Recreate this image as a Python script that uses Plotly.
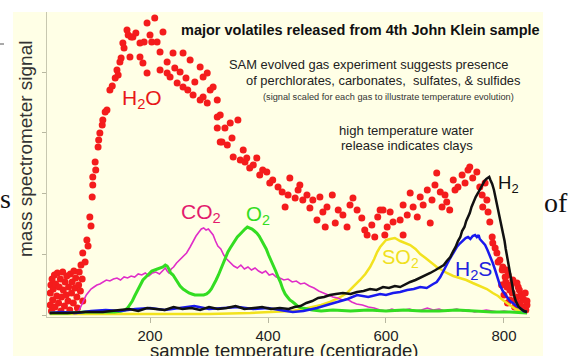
import plotly.graph_objects as go

# ---------------- data (temperature in °C, signal in arbitrary units) ----------------
h2o_temp = [31, 31, 32, 33, 34, 35, 36, 38, 39, 40, 42, 43, 45, 46, 48, 49, 50, 52, 53, 55,
            56, 58, 59, 61, 62, 64, 65, 67, 68, 70, 71, 73, 74, 76, 77, 79, 80, 82, 83, 85, 86,
            86, 90, 93, 95, 98, 100, 102, 103, 103, 107, 108, 112, 113, 115, 119, 120, 124, 127,
            132, 136, 141, 144, 146, 149, 151, 154, 156, 161, 163, 166, 168, 171, 176, 183, 183,
            188, 190, 195, 195, 200, 203, 208, 212, 217, 217, 222, 229, 229, 234, 239, 242, 246,
            251, 256, 256, 261, 264, 268, 273, 276, 285, 285, 290, 290, 297, 297, 302, 307, 314,
            314, 314, 319, 319, 322, 327, 331, 336, 339, 341, 349, 353, 358, 361, 364, 369, 375,
            381, 386, 391, 398, 403, 408, 417, 424, 429, 434, 437, 446, 451, 454, 459, 466, 471,
            476, 483, 488, 493, 497, 500, 509, 514, 519, 527, 534, 539, 544, 551, 559, 564, 568,
            576, 581, 586, 590, 595, 598, 602, 607, 612, 624, 629, 629, 636, 641, 646, 653, 658,
            663, 670, 675, 678, 683, 686, 692, 695, 700, 703, 708, 714, 717, 722, 729, 734, 739,
            742, 747, 754, 759, 763, 764, 768, 771, 773, 776, 780, 781, 785, 788, 790, 793, 797,
            798, 802, 803, 805, 807, 810, 814, 815, 819, 822, 824, 827, 829, 832, 834, 837, 839,
            800, 806, 812, 818, 826, 831, 836, 839, 810, 822, 796, 804]
h2o_signal = [10, 22, 30, 4, 36, 15, 26, 40, 8, 31, 19, 42, 12, 28, 36, 4, 18, 43, 25, 9,
              33, 20, 39, 14, 28, 5, 41, 22, 33, 12, 44, 27, 37, 18, 7, 30, 43, 24, 50, 36, 14,
              62, 53, 75, 69, 98, 89, 118, 130, 138, 153, 145, 168, 175, 182, 190, 195, 203, 205,
              225, 229, 237, 245, 240, 253, 257, 272, 267, 285, 280, 258, 278, 278, 282, 272, 258,
              252, 273, 292, 242, 280, 273, 297, 273, 263, 245, 283, 253, 242, 238, 262, 247, 232,
              243, 262, 228, 237, 225, 255, 220, 233, 248, 215, 238, 218, 242, 212, 225, 228, 215,
              198, 187, 200, 173, 173, 187, 170, 192, 177, 158, 195, 155, 165, 153, 157, 147, 150,
              157, 140, 145, 143, 132, 135, 128, 123, 108, 120, 137, 117, 125, 130, 115, 120, 107,
              115, 95, 118, 103, 88, 108, 120, 92, 105, 100, 88, 110, 117, 105, 97, 85, 80,
              90, 78, 98, 105, 105, 80, 88, 103, 93, 95, 80, 110, 100, 122, 108, 98, 118,
              110, 125, 92, 115, 130, 142, 123, 108, 120, 113, 105, 135, 125, 128, 140, 132, 145,
              148, 137, 143, 128, 120, 108, 132, 115, 103, 93, 78, 72, 67, 62, 53, 55, 45,
              48, 38, 33, 28, 40, 25, 22, 35, 15, 18, 28, 12, 20, 8, 15, 5, 10,
              20, 12, 30, 8, 25, 18, 22, 14, 15, 32, 30, 45]

co2_temp = [70, 75, 80, 84, 88, 92, 96, 100, 105, 110, 115, 120, 126, 132, 138, 144, 150, 156,
            162, 168, 174, 180, 186, 192, 198, 204, 210, 216, 222, 226, 229, 232, 236, 240, 245,
            250, 256, 262, 268, 273, 278, 283, 287, 291, 295, 299, 303, 307, 311, 315, 320, 325,
            330, 336, 342, 348, 354, 360, 366, 372, 378, 384, 390, 396, 402, 408, 414, 420, 427,
            434, 441, 448, 455, 462, 470, 478, 486, 494, 502, 510, 518, 526, 534, 542, 550, 560,
            570, 580, 590, 600, 610, 620, 630, 640, 650, 660, 670, 680, 690, 700, 710, 720, 730,
            740, 750, 760, 770, 780, 790, 800, 810, 820, 830, 836]
co2_signal = [1, 2, 5, 10, 16, 20, 23, 26, 28, 30, 31, 33, 35, 34, 36, 37, 35, 38, 37, 39, 38,
              41, 40, 42, 39, 42, 43, 41, 45, 47, 44, 42, 46, 48, 52, 55, 58, 62, 68, 74, 79, 83,
              86, 87, 85, 86, 83, 80, 74, 69, 66, 60, 56, 52, 49, 47, 50, 46, 48, 45, 47, 44, 42,
              44, 40, 41, 38, 37, 35, 36, 33, 34, 31, 32, 29, 27, 24, 22, 20, 18, 17, 15, 16, 13,
              11, 10, 8, 7, 5, 4, 6, 4, 5, 6, 4, 5, 7, 5, 6, 4, 5, 6, 4, 5, 3, 4, 5, 4, 3, 4, 3,
              3, 2, 2]

o2_temp = [30, 60, 90, 120, 140, 152, 158, 162, 166, 170, 174, 178, 183, 188, 193, 198, 203,
           208, 213, 218, 222, 226, 229, 232, 235, 239, 243, 247, 251, 256, 261, 266, 271, 276,
           281, 286, 291, 296, 300, 304, 308, 312, 316, 320, 324, 328, 332, 336, 340, 344, 348,
           353, 357, 361, 365, 369, 373, 377, 381, 385, 389, 393, 397, 401, 405, 409, 413, 417,
           421, 425, 429, 433, 437, 442, 447, 452, 458, 465, 475, 490, 510, 540, 570, 600, 630,
           660, 690, 720, 750, 780, 810, 839]
o2_signal = [2, 2, 3, 3, 3, 4, 5, 7, 10, 14, 19, 24, 30, 35, 38, 41, 44, 45, 46, 47, 48, 50,
             49, 46, 42, 40, 36, 32, 29, 26, 24, 22, 21, 20, 20, 20, 20, 21, 23, 26, 30, 35, 40,
             46, 53, 58, 63, 67, 71, 75, 78, 81, 84, 86, 88, 87, 86, 84, 82, 79, 75, 70, 66, 60,
             55, 50, 44, 38, 33, 26, 21, 18, 15, 13, 10, 8, 7, 6, 5, 4, 5, 4, 5, 4, 5, 4, 4, 5,
             4, 3, 3, 2]

so2_temp = [30, 100, 200, 300, 370, 420, 440, 460, 476, 490, 505, 520, 534, 545, 556, 565, 573,
            580, 585, 590, 595, 600, 607, 615, 624, 632, 641, 650, 658, 667, 675, 686, 695, 703,
            714, 725, 736, 747, 759, 771, 781, 790, 798, 805, 812, 819, 827, 833, 839]
so2_signal = [1, 1, 1, 1, 2, 3, 4, 6, 8, 10, 13, 17, 22, 28, 35, 41, 48, 56, 63, 68, 72, 75,
              76, 77, 74, 72, 70, 66, 61, 57, 53, 48, 45, 42, 39, 37, 35, 32, 29, 26, 22, 19,
              15, 12, 9, 6, 4, 3, 2]

h2s_temp = [30, 50, 75, 100, 125, 150, 175, 200, 225, 250, 275, 300, 325, 350, 375, 400, 420,
            442, 460, 483, 500, 517, 535, 551, 570, 590, 600, 612, 624, 636, 647, 658, 669, 680,
            686, 692, 697, 703, 708, 714, 720, 726, 731, 735, 739, 743, 747, 751, 754, 757, 759,
            763, 768, 772, 776, 781, 785, 789, 793, 798, 805, 810, 815, 821, 827, 833, 839]
h2s_signal = [2, 3, 2, 4, 5, 4, 6, 7, 5, 7, 9, 6, 7, 8, 6, 7, 5, 3, 4, 7, 10, 13, 16, 20, 18,
              21, 20, 22, 23, 25, 26, 28, 27, 31, 33, 38, 44, 50, 56, 62, 68, 72, 75, 77, 78, 76,
              79, 80, 78, 80, 76, 73, 70, 65, 60, 52, 45, 37, 30, 24, 18, 14, 12, 9, 7, 4, 3]

h2_temp = [30, 60, 90, 120, 149, 165, 180, 195, 210, 225, 240, 255, 270, 285, 300, 315, 330,
           345, 360, 375, 390, 405, 420, 435, 445, 455, 465, 475, 485, 495, 505, 515, 527, 540,
           551, 562, 573, 584, 595, 605, 615, 624, 633, 641, 650, 658, 667, 675, 684, 692, 698,
           703, 709, 714, 718, 722, 726, 729, 733, 736, 739, 742, 745, 749, 752, 756, 760, 763,
           767, 770, 773, 775, 777, 780, 783, 786, 790, 793, 796, 798, 801, 803, 806, 808, 811,
           814, 817, 820, 825, 829, 834, 839]
h2_signal = [2, 2, 3, 3, 5, 6, 4, 7, 6, 5, 8, 6, 7, 5, 8, 6, 7, 9, 6, 7, 8, 6, 7, 6, 8, 9, 12,
             14, 17, 18, 20, 21, 22, 21, 23, 24, 26, 25, 28, 27, 29, 28, 31, 33, 35, 37, 40, 42,
             45, 48, 50, 54, 58, 64, 68, 74, 78, 84, 88, 94, 98, 102, 108, 114, 118, 122, 127,
             130, 134, 136, 137, 138, 135, 131, 125, 117, 105, 98, 90, 83, 74, 66, 56, 48, 38,
             30, 20, 14, 8, 6, 4, 3]

x_ticks = [200, 400, 600, 800]
y_ticks = [0, 61, 122, 183, 243]

# ---------------- figure ----------------
W, H = 582, 356
ML, MR, MT, MB = 47, 52, 12, 39
PW, PH = W - ML - MR, H - MT - MB
CREAM = "#ffffe6"
FONT = "Arial, Liberation Sans, sans-serif"
SERIF = "Times New Roman, Liberation Serif, serif"


def pxx(x):
    return (x - ML) / PW


def pxy(y):
    return (H - MB - y) / PH


fig = go.Figure()
fig.add_trace(go.Scatter(x=h2o_temp, y=h2o_signal, mode="markers",
                         marker=dict(color="#f41c1c", size=7, line=dict(width=0)),
                         cliponaxis=False))
fig.add_trace(go.Scatter(x=so2_temp, y=so2_signal, mode="lines",
                         line=dict(color="#f2e21e", width=2.5)))
fig.add_trace(go.Scatter(x=co2_temp, y=co2_signal, mode="lines",
                         line=dict(color="#e02ec8", width=1.6)))
fig.add_trace(go.Scatter(x=o2_temp, y=o2_signal, mode="lines",
                         line=dict(color="#33dd22", width=3)))
fig.add_trace(go.Scatter(x=h2s_temp, y=h2s_signal, mode="lines",
                         line=dict(color="#1a1aee", width=2.5)))
fig.add_trace(go.Scatter(x=h2_temp, y=h2_signal, mode="lines",
                         line=dict(color="#111111", width=2.5)))

ann = []


def text(x, y, s, size, color="#222", family=FONT, ref="paper"):
    if ref == "paper":
        ann.append(dict(x=pxx(x), y=pxy(y), xref="paper", yref="paper", text=s,
                        showarrow=False, xanchor="center", yanchor="middle",
                        font=dict(size=size, color=color, family=family)))
    else:
        ann.append(dict(x=x, y=y, xref="x", yref="y", text=s,
                        showarrow=False, xanchor="center", yanchor="middle",
                        font=dict(size=size, color=color, family=family)))


text(360, 30, "<b>major volatiles released from 4th John Klein sample</b>", 14.5, "#111")
text(368, 65, "SAM evolved gas experiment suggests presence", 12.9)
text(383, 80, "of perchlorates, carbonates,  sulfates, & sulfides", 12.9)
text(388, 97, "(signal scaled for each gas to illustrate temperature evolution)", 9.2, "#333")
text(406, 130, "high temperature water", 13.1)
text(407, 145, "release indicates clays", 13.1)

text(186, 216, "H<sub>2</sub>O", 21, "#e81818", ref="data")
text(286, 102, "CO<sub>2</sub>", 21, "#e31b6d", ref="data")
text(383, 100, "O<sub>2</sub>", 20.5, "#33dd22", ref="data")
text(624, 57, "SO<sub>2</sub>", 20, "#f0e020", ref="data")
text(748, 45, "H<sub>2</sub>S", 21, "#2222dd", ref="data")
text(808, 131, "H<sub>2</sub>", 18.5, "#111", ref="data")

# axis titles
ann.append(dict(x=pxx(25), y=pxy(149), xref="paper", yref="paper",
                text="mass spectrometer signal", textangle=-90, showarrow=False,
                xanchor="center", yanchor="middle",
                font=dict(size=19, color="#333", family=FONT)))
text(284, 350, "sample temperature (centigrade)", 18.5, "#222")

# page fragments around the embedded picture
text(5, 198, "s", 28, "#111", family=SERIF)
text(556, 202, "of", 28, "#111", family=SERIF)

fig.update_layout(
    width=W, height=H,
    margin=dict(l=ML, r=MR, t=MT, b=MB, pad=0),
    paper_bgcolor="white", plot_bgcolor=CREAM,
    showlegend=False,
    annotations=ann,
    shapes=[
        dict(type="rect", xref="paper", yref="paper", layer="below",
             x0=pxx(13), x1=pxx(543), y0=pxy(H + 5), y1=pxy(12),
             fillcolor=CREAM, line=dict(width=0)),
        dict(type="line", xref="paper", yref="paper",
             x0=pxx(0), x1=pxx(4), y0=pxy(44), y1=pxy(44),
             line=dict(color="#555", width=1)),
    ],
    xaxis=dict(range=[25.4, 844.1], tickvals=x_ticks, ticks="outside", ticklen=5,
               tickcolor="#b8b8a0", showline=True, linecolor="#c8c8b0", linewidth=1,
               showgrid=False, zeroline=False,
               tickfont=dict(size=15, color="#222", family=FONT)),
    yaxis=dict(range=[-2, 303], tickvals=y_ticks, ticks="outside", ticklen=4,
               tickcolor="#b8b8a0", showline=True, linecolor="#c8c8b0", linewidth=1,
               showticklabels=False, showgrid=False, zeroline=False),
)

fig.write_html("out.html", config={"displayModeBar": False},
               post_script="document.body.style.margin='0px';")
